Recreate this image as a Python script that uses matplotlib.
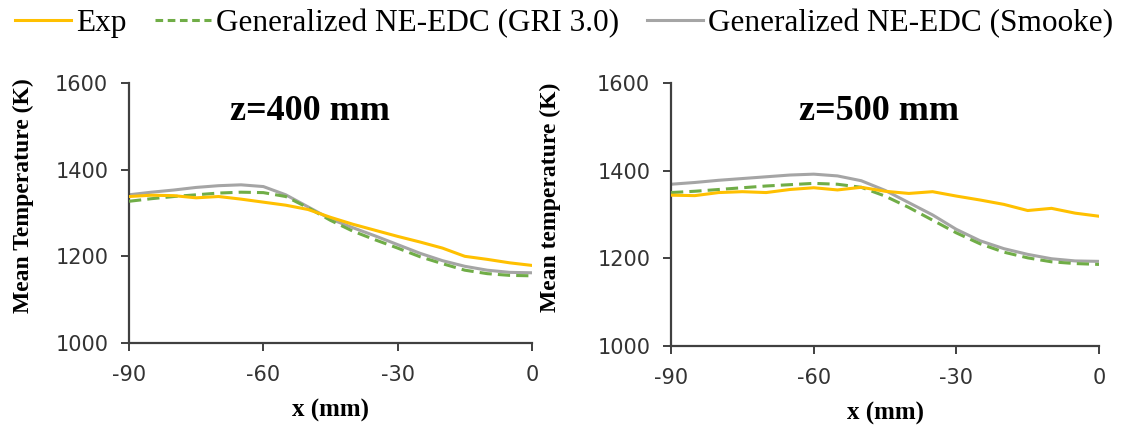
import matplotlib
matplotlib.use('Agg')
import matplotlib.pyplot as plt
from matplotlib.lines import Line2D

plt.rcParams['axes.unicode_minus'] = False

# radial position (mm)
x_mm = [-90, -85, -80, -75, -70, -65, -60, -55, -50, -45,
        -40, -35, -30, -25, -20, -15, -10, -5, 0]

# z = 400 mm
exp_400 = [1338, 1341, 1340, 1335, 1338, 1332, 1325, 1318, 1308, 1290,
           1274, 1260, 1246, 1233, 1219, 1200, 1193, 1185, 1179]
gri_400 = [1327, 1333, 1338, 1342, 1346, 1348, 1347, 1338, 1312, 1283,
           1258, 1238, 1219, 1199, 1183, 1168, 1160, 1156, 1155]
smooke_400 = [1342, 1348, 1353, 1359, 1363, 1365, 1361, 1342, 1314, 1286,
              1266, 1247, 1227, 1207, 1190, 1177, 1168, 1163, 1162]

# z = 500 mm
exp_500 = [1344, 1343, 1350, 1352, 1350, 1357, 1361, 1356, 1362, 1353,
           1348, 1352, 1342, 1333, 1323, 1309, 1314, 1303, 1296]
gri_500 = [1350, 1353, 1357, 1361, 1365, 1368, 1371, 1369, 1362, 1342,
           1316, 1287, 1258, 1233, 1214, 1201, 1192, 1188, 1186]
smooke_500 = [1369, 1373, 1378, 1382, 1386, 1390, 1392, 1388, 1377, 1355,
              1327, 1299, 1266, 1240, 1222, 1209, 1199, 1194, 1193]

titles = ['z=400 mm', 'z=500 mm']
ylabels = ['Mean Temperature (K)', 'Mean temperature (K)']
labels = ['Exp', 'Generalized NE-EDC (GRI 3.0)', 'Generalized NE-EDC (Smooke)']

c_exp = '#FFC000'
c_gri = '#70AD47'
c_smk = '#A5A5A5'
axis_col = '#404040'
serif = 'Liberation Serif'

fig = plt.figure(figsize=(11.28, 4.25), dpi=100)
ax1 = fig.add_axes([0.1144, 0.193, 0.3572, 0.6117])
ax2 = fig.add_axes([0.5949, 0.186, 0.3794, 0.6187])

# axes, series, title x position, ylabel x position
panels = [(ax1, exp_400, gri_400, smooke_400, 0.45, -0.235),
          (ax2, exp_500, gri_500, smooke_500, 0.485, -0.258)]

for i, (ax, e, g, s, tx, lx) in enumerate(panels):
    ax.plot(x_mm, s, color=c_smk, lw=2.2, zorder=2)
    ax.plot(x_mm, g, color=c_gri, lw=2.2, dashes=(4, 2), zorder=3)
    ax.plot(x_mm, e, color=c_exp, lw=2.2, zorder=4)

    ax.set_xlim(-90, 0)
    ax.set_ylim(1000, 1600)
    ax.set_xticks([-90, -60, -30, 0])
    ax.set_yticks([1000, 1200, 1400, 1600])
    for side in ['top', 'right']:
        ax.spines[side].set_visible(False)
    for side in ['left', 'bottom']:
        ax.spines[side].set_color(axis_col)
        ax.spines[side].set_linewidth(1.6)
    ax.tick_params(direction='out', length=6, width=1.4, color=axis_col,
                   labelcolor='#333333', labelsize=15)
    ax.tick_params(axis='y', pad=9)
    ax.tick_params(axis='x', pad=10)
    for t in ax.get_xticklabels() + ax.get_yticklabels():
        t.set_family('DejaVu Sans')

    ax.set_xlabel('x (mm)', family=serif, fontweight='bold', fontsize=18,
                  labelpad=10)
    ax.set_ylabel(ylabels[i], family=serif, fontweight='bold', fontsize=17)
    ax.yaxis.set_label_coords(lx, 0.565)
    ax.text(tx, 0.955, titles[i], transform=ax.transAxes, ha='center',
            va='top', family=serif, fontweight='bold', fontsize=26)

handles = [Line2D([], [], color=c_exp, lw=2.2),
           Line2D([], [], color=c_gri, lw=2.2, dashes=(2.5, 1.5)),
           Line2D([], [], color=c_smk, lw=2.2)]
fig.legend(handles, labels, loc='upper center', bbox_to_anchor=(0.5, 1.045),
           ncol=3, frameon=False, handlelength=1.8, handletextpad=0.15,
           columnspacing=0.9, prop={'family': serif, 'size': 22.5})

fig.savefig('out.png', dpi=100)
